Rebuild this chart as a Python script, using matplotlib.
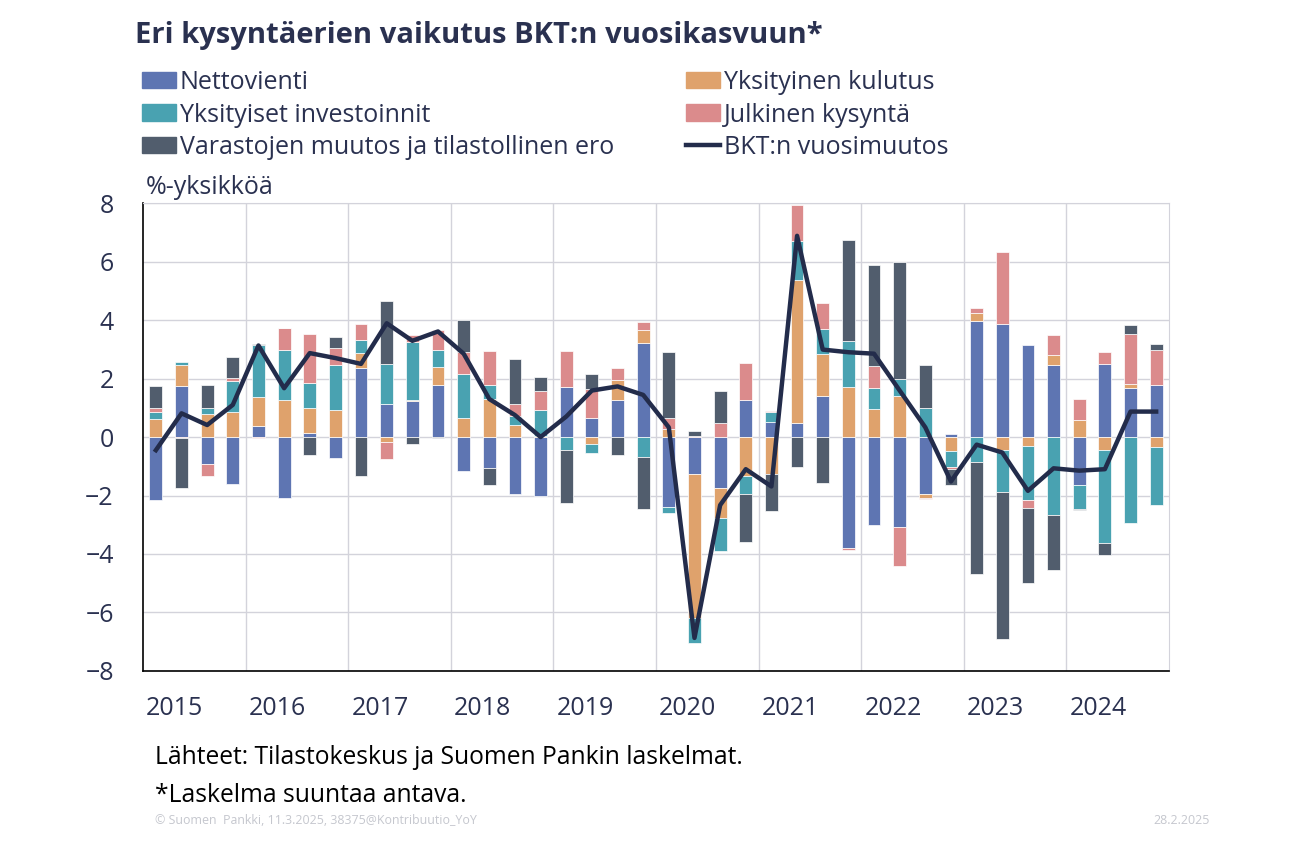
#!/usr/bin/env python3
"""Eri kysyntäerien vaikutus BKT:n vuosikasvuun (Suomen Pankki), stacked contributions."""

import numpy as np
import matplotlib
matplotlib.use("Agg")
import matplotlib.pyplot as plt  # noqa: E402
from matplotlib.patches import Patch  # noqa: E402
from matplotlib.lines import Line2D  # noqa: E402

years = ["2015", "2016", "2017", "2018", "2019", "2020", "2021", "2022", "2023", "2024"]

# quarterly contributions, %-points, 2015Q1 .. 2024Q4
nettovienti = [-2.16, 1.74, -0.93, -1.61, 0.37, -2.09, 0.13, -0.72,
               2.35, 1.12, 1.22, 1.77, -1.17, -1.05, -1.95, -2.02,
               1.70, 0.66, 1.25, 3.20, -2.38, -1.25, -1.75, 1.28,
               0.53, 0.47, 1.41, -3.81, -3.02, -3.07, -1.95, 0.10,
               3.97, 3.86, 3.14, 2.45, -1.65, 2.51, 1.69, 1.79]
yks_kulutus = [0.62, 0.73, 0.79, 0.85, 1.00, 1.27, 0.87, 0.93,
               0.51, -0.18, 0.03, 0.63, 0.65, 1.30, 0.41, 0.05,
               0.00, -0.24, 0.70, 0.46, 0.26, -4.94, -1.03, -1.33,
               -1.25, 4.90, 1.44, 1.71, 0.96, 1.41, -0.14, -0.49,
               0.27, -0.43, -0.32, 0.34, 0.57, -0.45, 0.11, -0.35]
yks_invest = [0.25, 0.09, 0.21, 1.05, 1.77, 1.70, 0.85, 1.53,
              0.45, 1.37, 1.99, 0.57, 1.50, 0.49, 0.31, 0.89,
              -0.43, -0.31, 0.00, -0.67, -0.23, -0.86, -1.12, -0.61,
              0.32, 1.33, 0.85, 1.58, 0.70, 0.58, 0.99, -0.55,
              -0.86, -1.46, -1.84, -2.66, -0.80, -3.17, -2.95, -1.98]
julkinen = [0.13, -0.05, -0.41, 0.13, -0.05, 0.77, 1.66, 0.59,
            0.56, -0.57, 0.25, 0.70, 0.77, 1.15, 0.40, 0.64,
            1.25, 0.97, 0.42, 0.29, 0.38, 0.05, 0.48, 1.25,
            0.05, 1.22, 0.90, -0.07, 0.78, -1.34, -0.03, -0.07,
            0.17, 2.47, -0.27, 0.70, 0.72, 0.39, 1.73, 1.18]
varastot = [0.74, -1.70, 0.78, 0.71, 0.03, 0.00, -0.63, 0.37,
            -1.34, 2.16, -0.24, -0.05, 1.09, -0.59, 1.54, 0.47,
            -1.81, 0.51, -0.63, -1.79, 2.26, 0.15, 1.09, -1.66,
            -1.29, -1.03, -1.58, 3.46, 3.43, 4.00, 1.46, -0.53,
            -3.84, -5.01, -2.57, -1.90, -0.03, -0.40, 0.30, 0.21]
bkt = [-0.45, 0.81, 0.41, 1.10, 3.13, 1.67, 2.87, 2.70,
       2.50, 3.89, 3.29, 3.61, 2.85, 1.30, 0.75, 0.00,
       0.70, 1.59, 1.73, 1.44, 0.33, -6.87, -2.33, -1.10,
       -1.69, 6.88, 2.99, 2.90, 2.85, 1.59, 0.33, -1.52,
       -0.26, -0.53, -1.84, -1.07, -1.15, -1.10, 0.87, 0.87]

series = [
    ("Nettovienti", nettovienti, "#5E75B2"),
    ("Yksityinen kulutus", yks_kulutus, "#DFA26C"),
    ("Yksityiset investoinnit", yks_invest, "#49A2B1"),
    ("Julkinen kysyntä", julkinen, "#DB8B8C"),
    ("Varastojen muutos ja tilastollinen ero", varastot, "#515D6D"),
]
NAVY = "#232C4B"
TXT = "#2A3150"
FS = 18

plt.rcParams["font.family"] = ["Open Sans", "DejaVu Sans"]

fig = plt.figure(figsize=(12.98, 8.49), dpi=100)
ax = fig.add_axes([0.1102, 0.2097, 0.7904, 0.5511])

x = np.arange(len(bkt))
pos = np.zeros(len(x))
neg = np.zeros(len(x))
for name, vals, col in series:
    v = np.array(vals)
    bottom = np.where(v >= 0, pos, neg)
    ax.bar(x, v, 0.5, bottom=bottom, color=col, edgecolor="white",
           linewidth=0.5, zorder=2)
    pos += np.clip(v, 0, None)
    neg += np.clip(v, None, 0)
ax.plot(x, bkt, color=NAVY, lw=3.2, zorder=3)

ax.set_xlim(-0.5, len(x) - 0.5)
ax.set_ylim(-8, 8)
ax.set_yticks(np.arange(-8, 9, 2))
ax.set_xticks(np.arange(len(years)) * 4 - 0.38)
ax.set_xticklabels(years, ha="left")
ax.set_xticks(np.arange(1, len(years)) * 4 - 0.5, minor=True)
ax.tick_params(axis="both", which="both", length=0, labelsize=FS, colors=TXT)
ax.tick_params(axis="y", pad=21)
ax.tick_params(axis="x", pad=18)
ax.grid(axis="y", color="#D3D3DB", lw=1.0, zorder=0)
ax.grid(axis="x", which="minor", color="#D3D3DB", lw=1.0, zorder=0)
for s in ("top", "right"):
    ax.spines[s].set_color("#D3D3DB")
for s in ("left", "bottom"):
    ax.spines[s].set_color("black")
    ax.spines[s].set_linewidth(1.2)

fig.text(135 / 1298, 1 - 36 / 849, "Eri kysyntäerien vaikutus BKT:n vuosikasvuun*",
         fontsize=21, fontweight="bold", color=TXT, va="center")

handles = [Patch(color=c) for _, _, c in series]
handles.append(Line2D([], [], color=NAVY, lw=3.2))
labels = [n for n, _, _ in series] + ["BKT:n vuosimuutos"]
order = [0, 2, 4, 1, 3, 5]
fig.legend([handles[i] for i in order], [labels[i] for i in order],
           loc="upper left", bbox_to_anchor=(142 / 1298, 1 - 70 / 849),
           ncol=2, frameon=False, fontsize=FS, labelcolor=TXT,
           handlelength=1.36, handleheight=0.64, handletextpad=0.14,
           columnspacing=2.9, labelspacing=0.30, borderaxespad=0,
           borderpad=0)

fig.text(146 / 1298, 1 - 188 / 849, "%-yksikköä", fontsize=FS, color=TXT, va="center")
fig.text(155 / 1298, 1 - 758 / 849, "Lähteet: Tilastokeskus ja Suomen Pankin laskelmat.",
         fontsize=17.7, color="black", va="center")
fig.text(155 / 1298, 1 - 795 / 849, "*Laskelma suuntaa antava.",
         fontsize=17.7, color="black", va="center")
fig.text(155 / 1298, 1 - 820 / 849, "© Suomen  Pankki, 11.3.2025, 38375@Kontribuutio_YoY",
         fontsize=8.9, color="#C5C7CE", va="center")
fig.text(1210 / 1298, 1 - 820 / 849, "28.2.2025", fontsize=8.9, color="#C5C7CE",
         va="center", ha="right")

fig.savefig("out.png", dpi=100)
